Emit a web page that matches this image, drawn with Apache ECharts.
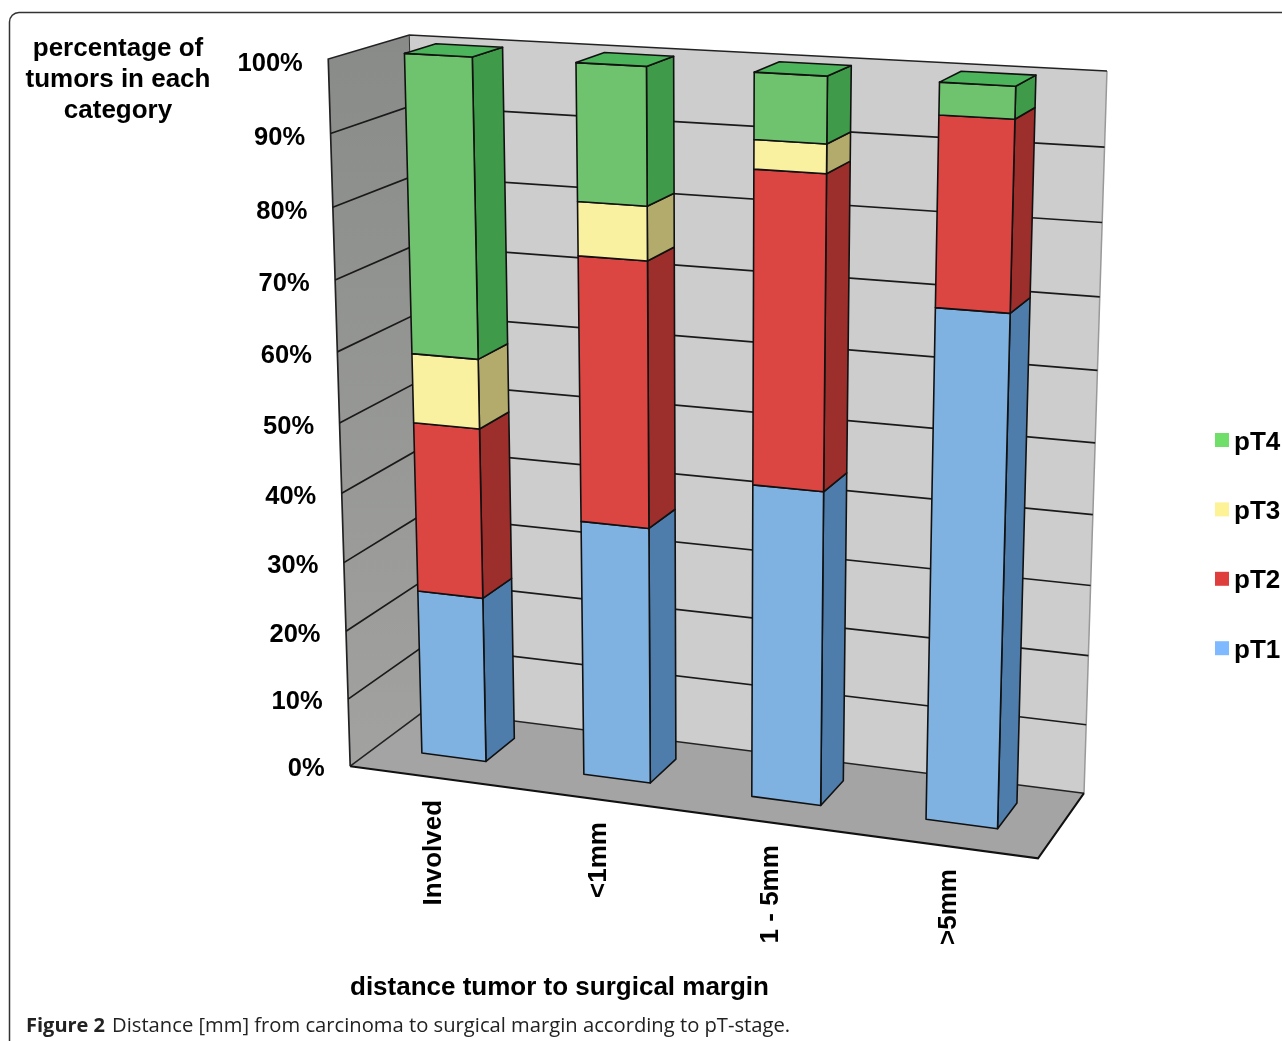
<!DOCTYPE html>
<html><head><meta charset="utf-8">
<style>html,body{margin:0;padding:0;background:#fff}#c{width:1282px;height:1041px}</style>
<script src="https://cdn.jsdelivr.net/npm/echarts@6/dist/echarts.min.js"></script>
</head><body><div id="c"></div>
<script>
const categories = ['Involved', '<1mm', '1 - 5mm', '>5mm'];
const pT1 = [24.2, 36.9, 44.5, 70.7];
const pT2 = [24.45, 37.1, 42.8, 25.1];
const pT3 = [9.85, 7.4, 3.9, 0];
const pT4 = [41.5, 18.6, 8.8, 4.2];
const tickValues = [0, 10, 20, 30, 40, 50, 60, 70, 80, 90, 100];
const stageNames = ['pT1', 'pT2', 'pT3', 'pT4'];

const FONT = '"Liberation Sans", Arial, sans-serif';
const LEGEND = {pT1:'#7FB9FF', pT2:'#DF3F3C', pT3:'#FDF296', pT4:'#6FDF6A'};
const FRONT = {pT1:'#7FB1E1', pT2:'#DC4642', pT3:'#F9F0A0', pT4:'#70C36E'};
const SIDE = {pT1:'#4E7DAB', pT2:'#9C2E2B', pT3:'#B3AB6C', pT4:'#3F9B4A'};
const TOPFACE = '#4CB45A';
const EDGE = '#111';

// Perspective camera fitted to the corners of the chart box: [u, v, d, px, py]
const corners = [
  [0,0,0,350,766],[1,0,0,1038,858.5],[1,0,1,1084,793],[0,0,1,426,710],
  [0,1,0,328.5,59],[0,1,1,409,35],[1,1,1,1107,71]
];
function solve(A,b){
  const n=b.length; const M=A.map((r,i)=>r.concat(b[i]));
  for(let i=0;i<n;i++){
    let p=i; for(let r=i+1;r<n;r++) if(Math.abs(M[r][i])>Math.abs(M[p][i])) p=r;
    [M[i],M[p]]=[M[p],M[i]];
    for(let r=0;r<n;r++){ if(r===i) continue; const f=M[r][i]/M[i][i];
      for(let c=i;c<=n;c++) M[r][c]-=f*M[i][c]; }
  }
  return M.map((r,i)=>r[n]/r[i]);
}
const cam=(function(){
  const rows=[],rhs=[];
  corners.forEach(([u,v,d,x,y])=>{ x/=1000;y/=1000;
    rows.push([u,v,d,1,0,0,0,0,-x*u,-x*v,-x*d]); rhs.push(x);
    rows.push([0,0,0,0,u,v,d,1,-y*u,-y*v,-y*d]); rhs.push(y);
  });
  const n=11,A=[],b=[];
  for(let i=0;i<n;i++){A.push([]);let s=0;
    for(let j=0;j<n;j++){let t=0;rows.forEach(r=>t+=r[i]*r[j]);A[i].push(t);}
    rows.forEach((r,k)=>s+=r[i]*rhs[k]);b.push(s);}
  return solve(A,b);
})();
function project(u,v,d){
  const w=cam[8]*u+cam[9]*v+cam[10]*d+1;
  return [1000*(cam[0]*u+cam[1]*v+cam[2]*d+cam[3])/w, 1000*(cam[4]*u+cam[5]*v+cam[6]*d+cam[7])/w];
}
// Turn the value axes' pixel output into box coordinates
function toBox(params,api,cat,val){
  const p=api.coord([cat,val]), r=params.coordSys;
  return {u:(p[0]-r.x)/r.width, v:(r.y+r.height-p[1])/r.height};
}
const BAR_W=0.40, D0=0.33, D1=0.73, U_SHIFT=-0.0025;
function poly(points,fill,stroke,lw){
  return {type:'polygon',shape:{points},style:{fill,stroke:stroke||EDGE,lineWidth:lw==null?1.6:lw,lineJoin:'round'},silent:true};
}
function line(points,stroke,lw){
  return {type:'polyline',shape:{points},style:{fill:null,stroke,lineWidth:lw},silent:true};
}
function barItem(name,isTop){
  return function(params,api){
    const cat=api.value(0), lo=api.value(1), hi=api.value(2);
    if(hi-lo<=0) return {type:'group',children:[]};
    const bw=api.size([1,0])[0]/params.coordSys.width*BAR_W;
    const a=toBox(params,api,cat,lo), b=toBox(params,api,cat,hi);
    const uL=a.u+U_SHIFT-bw/2, uR=a.u+U_SHIFT+bw/2;
    const ch=[
      poly([project(uR,a.v,D0),project(uR,a.v,D1),project(uR,b.v,D1),project(uR,b.v,D0)],SIDE[name]),
      poly([project(uL,a.v,D0),project(uR,a.v,D0),project(uR,b.v,D0),project(uL,b.v,D0)],FRONT[name])
    ];
    if(isTop) ch.push(poly([project(uL,b.v,D0),project(uR,b.v,D0),project(uR,b.v,D1),project(uL,b.v,D1)],TOPFACE));
    return {type:'group',children:ch};
  };
}
const stages=[pT1,pT2,pT3,pT4];
const running=categories.map(()=>0);
const barSeries=stageNames.map((name,s)=>({
  name,type:'custom',coordinateSystem:'cartesian2d',clip:false,silent:true,z:5+s,
  itemStyle:{color:LEGEND[name]},
  encode:{x:0,y:[1,2]},
  renderItem:barItem(name,s===3),
  data:stages[s].map((val,i)=>{const lo=running[i];running[i]+=val;return [i,lo,running[i]];})
}));
const frameSeries={
  type:'custom',coordinateSystem:'cartesian2d',clip:false,silent:true,z:1,
  renderItem(params,api){
    const P=project;
    const back=poly([P(0,0,1),P(1,0,1),P(1,1,1),P(0,1,1)],'#CECDCE','transparent',0);
    const left=poly([P(0,0,0),P(0,0,1),P(0,1,1),P(0,1,0)],
      {type:'linear',x:0,y:0,x2:0,y2:1,colorStops:[{offset:0,color:'#898B89'},{offset:1,color:'#A2A3A1'}]},'transparent',0);
    const floor=poly([P(0,0,0),P(1,0,0),P(1,0,1),P(0,0,1)],'#A4A4A4','transparent',0);
    return {type:'group',children:[back,left,floor,
      line([P(1,0,1),P(1,1,1)],'#999',1.5),
      line([P(0,0,0),P(0,1,0),P(0,1,1),P(1,1,1)],'#222',1.7),
      line([P(0,0,0),P(0,0,1),P(1,0,1)],'#222',1.5),
      line([P(0,1,1),P(0,0,1)],'#333',1.0),
      line([P(0,0,0),P(1,0,0),P(1,0,1)],'#111',2)]};
  },
  data:[[0,0]]
};
const gridSeries={
  type:'custom',coordinateSystem:'cartesian2d',clip:false,silent:true,z:2,
  renderItem(params,api){
    const val=api.value(1); const {v}=toBox(params,api,0,val);
    if(val===0||val===100) return {type:'group',children:[]};
    return line([project(0,v,0),project(0,v,1),project(1,v,1)],'#1a1a1a',1.7);
  },
  data:tickValues.map(t=>[0,t])
};
const bold=s=>({font:'bold '+s+'px '+FONT,fill:'#000'});
const tickSeries={
  type:'custom',coordinateSystem:'cartesian2d',clip:false,silent:true,z:20,
  renderItem(params,api){
    const val=api.value(1); const {v}=toBox(params,api,0,val);
    const p=project(0,v,0);
    return {type:'text',x:p[0]-25.5,y:p[1]+3+2*v,style:Object.assign(bold(25.5),{text:val+'%',align:'right',verticalAlign:'middle'}),silent:true};
  },
  data:tickValues.map(t=>[0,t])
};
const catSeries={
  type:'custom',coordinateSystem:'cartesian2d',clip:false,silent:true,z:20,
  renderItem(params,api){
    const i=api.value(0); const {u}=toBox(params,api,i,0);
    const p=project(u,0,0);
    return {type:'text',x:p[0]+3,y:p[1]+23,rotation:Math.PI/2,
      style:Object.assign(bold(26),{text:categories[i],align:'right',verticalAlign:'middle'}),silent:true};
  },
  data:categories.map((c,i)=>[i,0])
};
const chart=echarts.init(document.getElementById('c'),null,{renderer:'canvas'});
chart.setOption({
  animation:false,backgroundColor:'#fff',
  grid:{left:330,right:200,top:60,bottom:280},
  xAxis:{type:'category',data:categories,show:false},
  yAxis:{type:'value',min:0,max:100,interval:10,show:false},
  legend:{data:['pT4','pT3','pT2','pT1'],orient:'vertical',left:1215,top:429.5,itemWidth:14,itemHeight:14,itemGap:43.4,
    selectedMode:false,icon:'rect',padding:0,formatter:'{t|{name}}',
    textStyle:{rich:{t:{fontFamily:FONT,fontWeight:'bold',fontSize:26,color:'#000',padding:[5,0,0,0]}}}},
  title:[
    {text:'percentage of\ntumors in each\ncategory',left:118,top:33,textAlign:'center',padding:0,
     textStyle:{fontFamily:FONT,fontWeight:'bold',fontSize:26,lineHeight:31,color:'#000'}},
    {text:'distance tumor to surgical margin',left:350,top:975,padding:0,
     textStyle:{fontFamily:FONT,fontWeight:'bold',fontSize:26,color:'#000'}},
    {text:'{b|Figure 2} {r|Distance [mm] from carcinoma to surgical margin according to pT-stage.}',left:26,top:1016,padding:0,
     textStyle:{fontWeight:'normal',rich:{b:{fontFamily:'"Open Sans"',fontWeight:'bold',fontSize:20,color:'#222',padding:[0,2,0,0]},
                      r:{fontFamily:'"Open Sans"',fontWeight:'normal',fontSize:20.2,color:'#222'}}}}
  ],
  graphic:[
    {type:'polyline',shape:{points:[[1282,12.5],[19,12.5]]},style:{fill:null,stroke:'#333',lineWidth:1.5},silent:true},
    {type:'arc',shape:{cx:19,cy:22,r:9.5,startAngle:Math.PI,endAngle:Math.PI*1.5},style:{fill:null,stroke:'#333',lineWidth:1.5},silent:true},
    {type:'polyline',shape:{points:[[9.5,22],[9.5,1041]]},style:{fill:null,stroke:'#333',lineWidth:1.5},silent:true}
  ],
  series:[frameSeries,gridSeries].concat(barSeries,[tickSeries,catSeries])
});
</script></body></html>
